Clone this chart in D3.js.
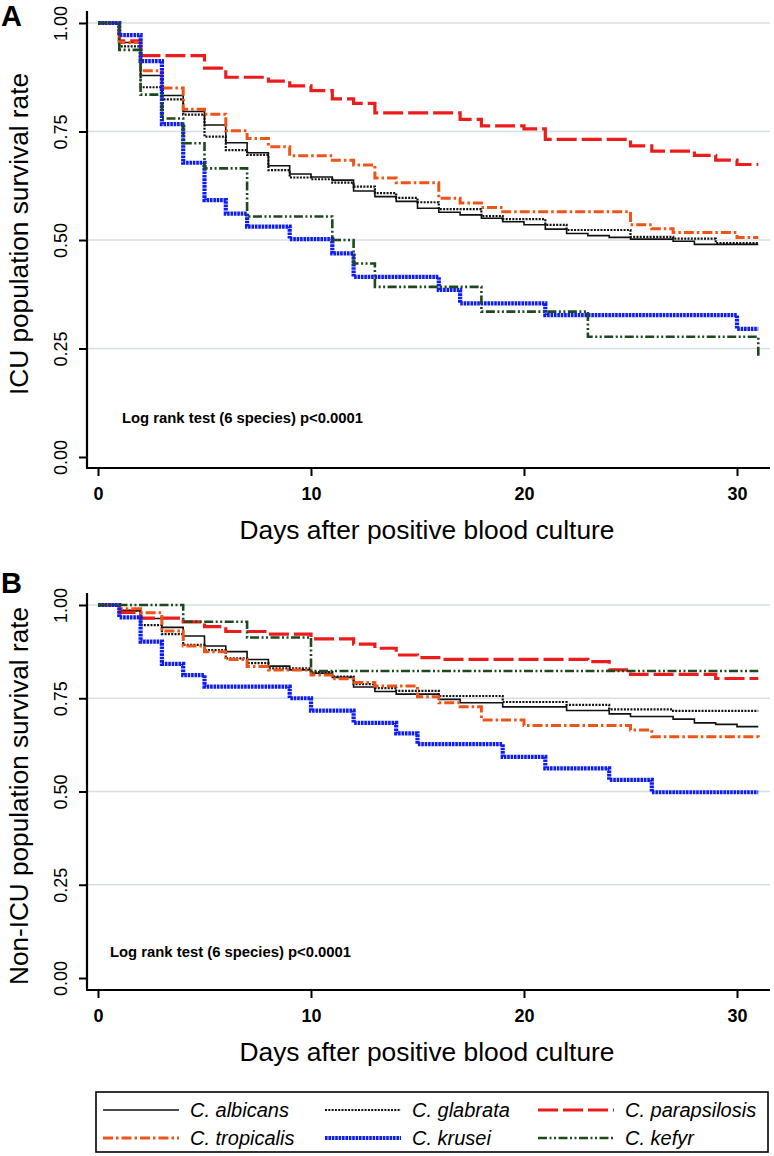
<!DOCTYPE html>
<html>
<head>
<meta charset="utf-8">
<script src="https://cdn.jsdelivr.net/npm/d3@7"></script>
<style>
  body { margin: 0; background: #fff; }
  svg { font-family: Arial, "Liberation Sans", Helvetica, sans-serif; }
</style>
</head>
<body>
<svg id="chart"></svg>
<script>
// ---- data ----
var species = ["C. albicans", "C. glabrata", "C. parapsilosis", "C. tropicalis", "C. krusei", "C. kefyr"];
var xTicks = [0, 10, 20, 30];
var yTicks = [0, 0.25, 0.5, 0.75, 1];
var endDay = 31;
var logRankText = "Log rank test (6 species) p<0.0001";

// panel A: ICU, [day, survival]
var icuAlbicans = [[0,1],[1,0.955],[2,0.879],[3,0.833],[4,0.796],[5,0.765],[6,0.724],[7,0.701],[8,0.671],[9,0.652],[10,0.645],[11,0.638],[12,0.613],[13,0.600],[14,0.589],[15,0.573],[16,0.564],[17,0.558],[18,0.550],[19,0.542],[20,0.535],[21,0.525],[22,0.515],[23,0.510],[24,0.506],[25,0.502],[27,0.497],[28,0.490]];
var icuGlabrata = [[0,1],[1,0.946],[2,0.852],[3,0.824],[4,0.789],[5,0.738],[6,0.707],[7,0.696],[8,0.661],[9,0.644],[10,0.640],[11,0.632],[12,0.623],[13,0.608],[14,0.597],[15,0.587],[16,0.571],[18,0.555],[19,0.548],[21,0.535],[22,0.523],[25,0.507],[27,0.503],[29,0.493]];
var icuParapsilosis = [[0,1],[1,0.959],[2,0.925],[5,0.896],[6,0.875],[8,0.866],[9,0.855],[10,0.844],[11,0.825],[12,0.815],[13,0.793],[17,0.778],[18,0.763],[20,0.756],[21,0.732],[25,0.717],[26,0.705],[28,0.695],[29,0.684],[30,0.674]];
var icuTropicalis = [[0,1],[1,0.955],[2,0.890],[3,0.850],[4,0.801],[5,0.790],[6,0.752],[7,0.734],[8,0.715],[9,0.694],[11,0.684],[12,0.673],[13,0.643],[14,0.632],[16,0.596],[17,0.585],[18,0.575],[19,0.565],[25,0.535],[26,0.526],[27,0.517],[30,0.506]];
var icuKrusei = [[0,1],[1,0.972],[2,0.912],[3,0.767],[4,0.678],[5,0.592],[6,0.561],[7,0.531],[9,0.502],[11,0.469],[12,0.415],[16,0.385],[17,0.354],[21,0.327],[30,0.295]];
var icuKefyr = [[0,1],[1,0.938],[2,0.835],[3,0.780],[4,0.723],[5,0.665],[7,0.554],[11,0.500],[12,0.446],[13,0.392],[18,0.335],[23,0.277],[31,0.231]];

// panel B: non-ICU
var nonIcuAlbicans = [[0,1],[1,0.985],[2,0.964],[3,0.940],[4,0.917],[5,0.890],[6,0.875],[7,0.854],[8,0.836],[9,0.826],[10,0.817],[11,0.806],[12,0.780],[13,0.768],[14,0.761],[16,0.747],[17,0.738],[19,0.727],[22,0.717],[24,0.708],[25,0.701],[27,0.694],[28,0.684],[29,0.680],[30,0.674]];
var nonIcuGlabrata = [[0,1],[1,0.985],[2,0.946],[3,0.922],[4,0.893],[5,0.879],[6,0.857],[7,0.844],[8,0.830],[10,0.820],[11,0.808],[12,0.788],[13,0.777],[14,0.770],[16,0.756],[19,0.740],[22,0.732],[24,0.720],[27,0.716]];
var nonIcuParapsilosis = [[0,1],[1,0.980],[2,0.965],[4,0.955],[5,0.942],[6,0.929],[8,0.922],[10,0.909],[12,0.895],[13,0.884],[14,0.866],[15,0.859],[16,0.854],[23,0.848],[24,0.826],[25,0.814],[29,0.803]];
var nonIcuTropicalis = [[0,1],[1,0.990],[2,0.979],[3,0.930],[4,0.890],[5,0.875],[6,0.854],[7,0.835],[8,0.826],[10,0.812],[11,0.802],[12,0.792],[13,0.783],[15,0.754],[16,0.738],[17,0.727],[18,0.692],[20,0.677],[25,0.665],[26,0.647],[31,0.640]];
var nonIcuKrusei = [[0,1],[1,0.967],[2,0.902],[3,0.842],[4,0.812],[5,0.781],[9,0.750],[10,0.717],[12,0.684],[14,0.656],[15,0.627],[19,0.593],[21,0.562],[24,0.531],[26,0.498]];
var nonIcuKefyr = [[0,1],[4,0.955],[7,0.913],[10,0.823]];

// ---- styles ----
var styles = {
  "C. albicans":     { color: "#111", width: 1.6, dash: null },
  "C. glabrata":     { color: "#111", width: 2.2, dash: "2,1.3" },
  "C. parapsilosis": { color: "#ec1c1c", width: 3.2, dash: "20,5" },
  "C. tropicalis":   { color: "#ee5418", width: 3, dash: "10,3,2.5,3" },
  "C. krusei":       { color: "#0c1cf2", width: 4.2, dash: "2.6,0.8" },
  "C. kefyr":        { color: "#1c4a1c", width: 2.6, dash: "9,2.5,2,2.5,2,2.5" }
};

var width = 774, height = 1156;
var axisLeftX = 87, axisRightX = 770;

var svg = d3.select("#chart").attr("width", width).attr("height", height);

var x = d3.scaleLinear().domain([0, 30]).range([98, 737]);

var line = d3.line().curve(d3.curveStepAfter);

function drawPanel(p) {
  var y = d3.scaleLinear().domain([0, 1]).range([p.y0, p.y1]);
  line.x(d => x(d[0])).y(d => y(d[1]));
  var g = svg.append("g");

  // grid
  g.selectAll(".grid")
    .data(yTicks.filter(v => v > 0))
    .enter().append("line")
    .attr("x1", axisLeftX).attr("x2", axisRightX)
    .attr("y1", d => y(d)).attr("y2", d => y(d))
    .attr("stroke", "#d4e0e5").attr("stroke-width", 1.3);

  // y axis
  var ya = g.append("g")
    .attr("transform", `translate(${axisLeftX},0)`)
    .call(d3.axisLeft(y).tickValues(yTicks).tickFormat(d3.format(".2f")).tickSize(8));
  ya.select(".domain").remove();
  ya.selectAll(".tick line").attr("stroke", "#000").attr("stroke-width", 2);
  ya.selectAll(".tick text")
    .attr("transform", "rotate(-90)")
    .attr("x", 0).attr("y", -20).attr("dy", 0)
    .attr("text-anchor", "middle")
    .attr("fill", "#000")
    .style("font-size", "18px");

  // x axis
  var xa = g.append("g")
    .attr("transform", `translate(0,${p.axisY})`)
    .call(d3.axisBottom(x).tickValues(xTicks).tickSize(8));
  xa.select(".domain").remove();
  xa.selectAll(".tick line").attr("stroke", "#000").attr("stroke-width", 2);
  xa.selectAll(".tick text")
    .attr("y", 32).attr("dy", 0)
    .attr("fill", "#000")
    .style("font-size", "18px").style("font-weight", "bold");

  // axis lines
  g.append("line").attr("x1", axisLeftX).attr("x2", axisLeftX)
    .attr("y1", p.y1 - 12).attr("y2", p.axisY)
    .attr("stroke", "#000").attr("stroke-width", 2.2);
  g.append("line").attr("x1", axisLeftX - 1).attr("x2", axisRightX)
    .attr("y1", p.axisY).attr("y2", p.axisY)
    .attr("stroke", "#000").attr("stroke-width", 2.2);

  // curves
  p.series.forEach(function (data, i) {
    var st = styles[species[i]];
    var pts = data.concat([[endDay, data[data.length - 1][1]]]);
    g.append("path")
      .attr("d", line(pts))
      .attr("fill", "none")
      .attr("stroke", st.color)
      .attr("stroke-width", st.width)
      .attr("stroke-dasharray", st.dash);
  });

  // texts
  g.append("text").attr("x", p.logX).attr("y", p.logY)
    .style("font-size", "15px").style("font-weight", "bold")
    .attr("textLength", 241).attr("lengthAdjust", "spacingAndGlyphs")
    .text(logRankText);

  g.append("text")
    .attr("transform", `translate(28,${p.yTitleC}) rotate(-90)`)
    .attr("text-anchor", "middle")
    .style("font-size", "25px")
    .attr("textLength", p.yTitleLen).attr("lengthAdjust", "spacingAndGlyphs")
    .text(p.yTitle);

  g.append("text")
    .attr("x", 427).attr("y", p.axisY + 71)
    .attr("text-anchor", "middle")
    .style("font-size", "25px")
    .attr("textLength", 375).attr("lengthAdjust", "spacingAndGlyphs")
    .text("Days after positive blood culture");

  g.append("text").attr("x", 1).attr("y", p.labelY)
    .style("font-size", "29px").style("font-weight", "bold")
    .text(p.label);
}

drawPanel({
  label: "A", labelY: 26,
  y0: 457, y1: 23, axisY: 468,
  series: [icuAlbicans, icuGlabrata, icuParapsilosis, icuTropicalis, icuKrusei, icuKefyr],
  yTitle: "ICU population survival rate", yTitleC: 234, yTitleLen: 322,
  logX: 122, logY: 423
});

drawPanel({
  label: "B", labelY: 593,
  y0: 978, y1: 605, axisY: 990,
  series: [nonIcuAlbicans, nonIcuGlabrata, nonIcuParapsilosis, nonIcuTropicalis, nonIcuKrusei, nonIcuKefyr],
  yTitle: "Non-ICU population survival rate", yTitleC: 796, yTitleLen: 378,
  logX: 110, logY: 957
});

// legend
var lg = svg.append("g");
lg.append("rect").attr("x", 96).attr("y", 1092).attr("width", 672).attr("height", 60)
  .attr("fill", "#fff").attr("stroke", "#000").attr("stroke-width", 1.6);
var colX = [103, 325, 538], rowY = [1110, 1138];
species.forEach(function (s, i) {
  var cx = colX[i % 3], cy = rowY[Math.floor(i / 3)], st = styles[s];
  lg.append("line").attr("x1", cx).attr("x2", cx + 76).attr("y1", cy).attr("y2", cy)
    .attr("stroke", st.color).attr("stroke-width", st.width).attr("stroke-dasharray", st.dash);
  lg.append("text").attr("x", cx + 87).attr("y", cy + 7)
    .style("font-size", "20px").style("font-style", "italic")
    .text(s);
});
</script>
</body>
</html>
